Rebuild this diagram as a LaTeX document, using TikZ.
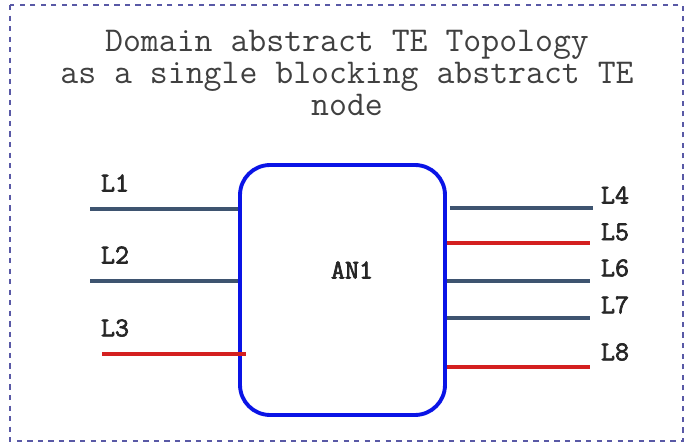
\documentclass[tikz,border=0pt]{standalone}
\usepackage{fontspec}
\newfontfamily\lnkfont{Latin Modern Mono}[FakeBold=2.5]
\usepackage{xcolor}
\usetikzlibrary{positioning}

\definecolor{linkgray}{HTML}{3E5470}
\definecolor{linkred}{HTML}{D42020}
\definecolor{boxblue}{HTML}{0A14E6}

\begin{document}
\begin{tikzpicture}[x=0.02cm, y=-0.02cm,
    every node/.style={font=\lnkfont\fontsize{15.5}{17}\selectfont, text=black!85, inner sep=0pt},
    link/.style={line width=1.8pt, linkgray},
    redlink/.style={line width=1.8pt, linkred}]
		\useasboundingbox (0,0) rectangle (686,445);
		\draw[dashed, gray!70!blue, line width=0.8pt] (10,5) rectangle (683,441);
		\node[font=\ttfamily\fontsize{19.8}{18}\selectfont, text=black!75, align=center] (title) at (347,73) {Domain abstract TE Topology\\as a single blocking abstract TE\\node};
		\node[draw=boxblue, line width=2.2pt, rounded corners=0.6cm, minimum width=4.1cm, minimum height=5cm] (an1) at (342.5,290) {};
		\node (an1lab) at (352,270) {AN1};
		% links on the left
		\coordinate (l1) at (90,209);
		\coordinate (l2) at (90,281);
		\coordinate (l3) at (102,354);
		\node (t1) at (115,183) {L1};
		\node (t2) at (115,255) {L2};
		\node (t3) at (115,328) {L3};
		\draw[link] (l1) -- (l1 -| an1.west);
		\draw[link] (l2) -- (l2 -| an1.west);
		\draw[redlink] (l3) -- ([xshift=0.16cm]l3 -| an1.west);
		% links on the right
		\coordinate (l4) at (593,208);
		\coordinate (l5) at (590,243);
		\coordinate (l6) at (590,281);
		\coordinate (l7) at (590,318);
		\coordinate (l8) at (590,367);
		\node (t4) at (615,195) {L4};
		\node (t5) at (615,232) {L5};
		\node (t6) at (615,268) {L6};
		\node (t7) at (615,305) {L7};
		\node (t8) at (615,352) {L8};
		\draw[link] ([xshift=0.06cm]l4 -| an1.east) -- (l4);
		\draw[redlink] (l5 -| an1.east) -- (l5);
		\draw[link] (l6 -| an1.east) -- (l6);
		\draw[link] (l7 -| an1.east) -- (l7);
		\draw[redlink] (l8 -| an1.east) -- (l8);
	\end{tikzpicture}
\end{document}
